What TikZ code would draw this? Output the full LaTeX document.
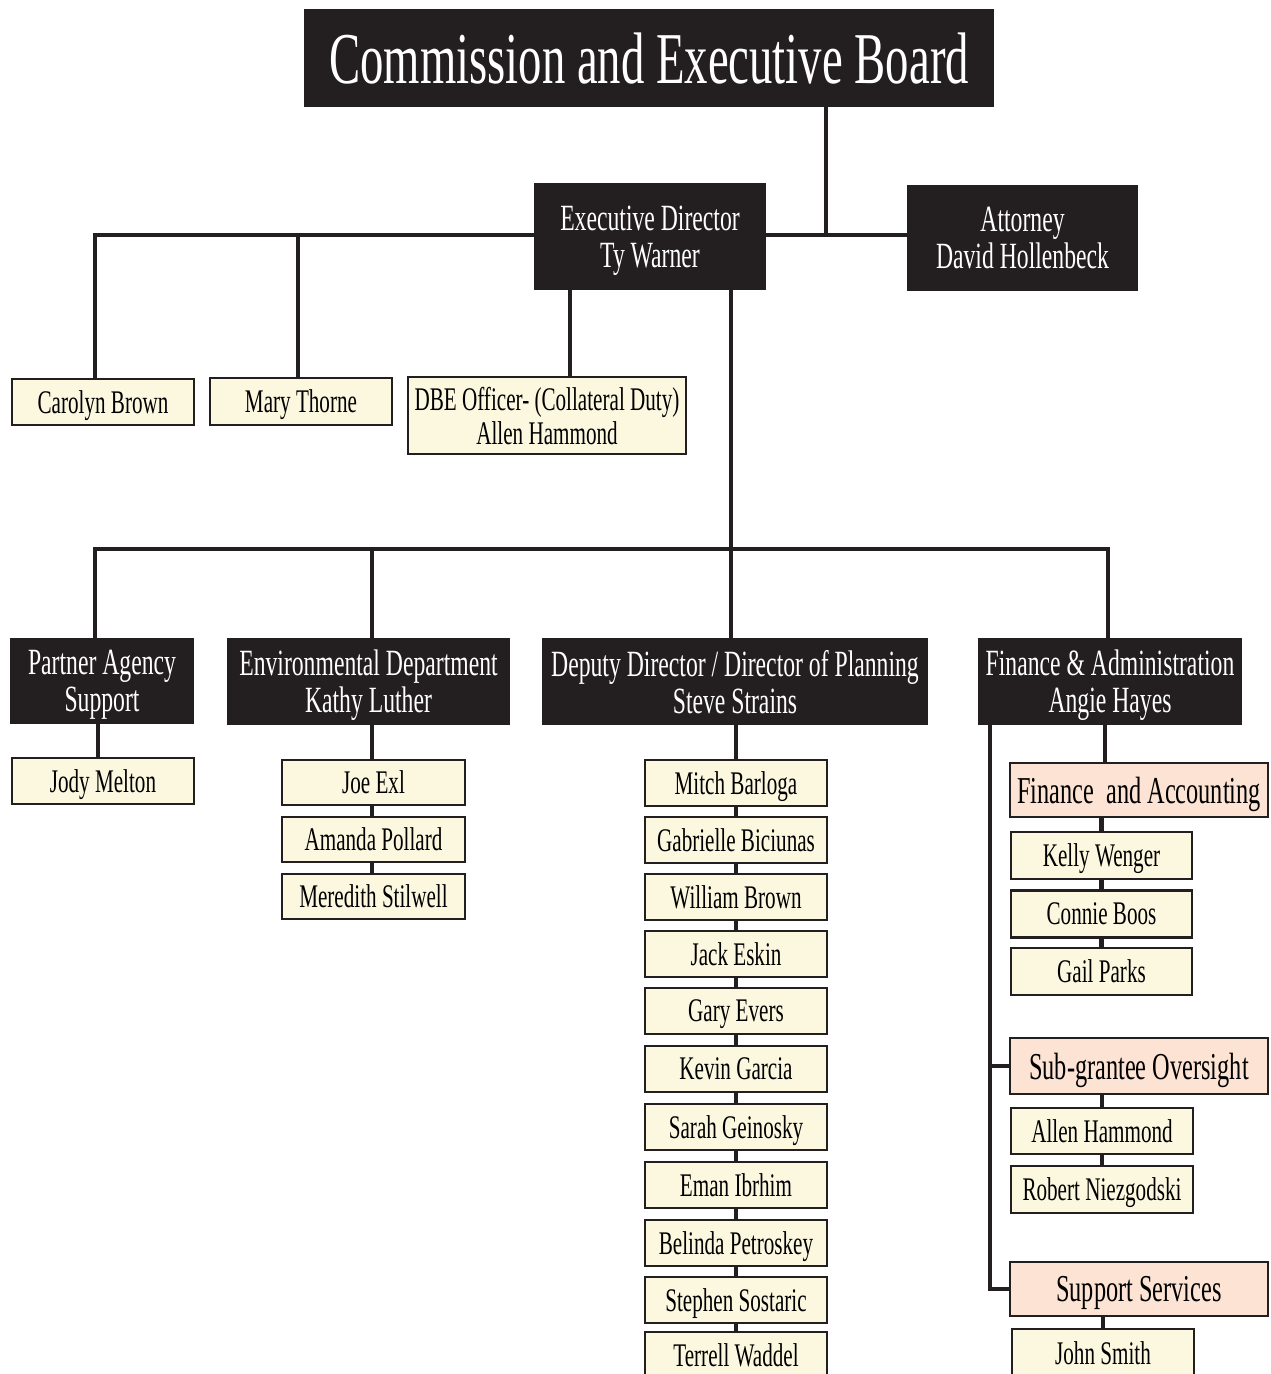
\documentclass[tikz,border=0pt]{standalone}
\usepackage{fontspec}
\setmainfont{Liberation Serif}[FakeStretch=0.64]
\definecolor{dark}{HTML}{231F20}
\definecolor{cream}{HTML}{FCF8E0}
\definecolor{peach}{HTML}{FCE3D3}
\begin{document}
\begin{tikzpicture}[x=1pt,y=-1pt,
  darkbox/.style={rectangle, fill=dark, draw=none, text=white, inner sep=0pt, align=center,
    text depth=0pt, font=\fontsize{37}{37}\selectfont},
  namebox/.style={rectangle, fill=cream, draw=dark, line width=2.8pt, inner sep=0pt, align=center,
    text depth=0pt, font=\fontsize{33}{34}\selectfont, minimum width=182, minimum height=46},
  unitbox/.style={rectangle, fill=peach, draw=dark, line width=2.8pt, inner sep=0pt, align=center,
    text depth=0pt, font=\fontsize{38}{38}\selectfont, minimum width=258, minimum height=55},
  conn/.style={draw=dark, line width=4.5pt}]
\useasboundingbox (0,0) rectangle (1270,1374);

\coordinate (j1) at (826,235);
\coordinate (bus) at (731,549);
\coordinate (trunk) at (990,725);

% top level
\node[darkbox, minimum width=690, minimum height=98, font=\fontsize{73}{73}\selectfont] (title) at (649,58) {Commission and Executive Board};
\node[darkbox, minimum width=232, minimum height=107] (exec) at (650,236.5) {Executive Director\\Ty Warner};
\node[darkbox, minimum width=231, minimum height=106] (attorney) at (1022.5,238) {Attorney\\David Hollenbeck};

\node[namebox] (carolyn) at (103,402) {Carolyn Brown};
\node[namebox, minimum height=47] (mary) at (301,401.5) {Mary Thorne};
\node[namebox, minimum width=278, minimum height=77] (dbe) at (547,415.5) {DBE Officer- (Collateral Duty)\\Allen Hammond};

% department heads
\node[darkbox, minimum width=184, minimum height=86] (partner) at (102,681) {Partner Agency\\Support};
\node[darkbox, minimum width=283, minimum height=87] (env) at (368.5,681.5) {Environmental Department\\Kathy Luther};
\node[darkbox, minimum width=386, minimum height=87] (deputy) at (735,681.5) {Deputy Director / Director of Planning\\Steve Strains};
\node[darkbox, minimum width=264, minimum height=87] (finance) at (1110,681.5) {Finance \& Administration\\Angie Hayes};

% partner
\node[namebox] (jody) at (103,781) {Jody Melton};

% environmental
\node[namebox, minimum width=183, minimum height=45] (joe) at (373.5,782.5) {Joe Exl};
\node[namebox, minimum width=183, minimum height=45] (amanda) at (373.5,839.5) {Amanda Pollard};
\node[namebox, minimum width=183, minimum height=45] (meredith) at (373.5,896.5) {Meredith Stilwell};

% deputy staff
\node[namebox] (d1) at (736,783) {Mitch Barloga};
\node[namebox] (d2) at (736,840) {Gabrielle Biciunas};
\node[namebox] (d3) at (736,897) {William Brown};
\node[namebox] (d4) at (736,954) {Jack Eskin};
\node[namebox] (d5) at (736,1011) {Gary Evers};
\node[namebox] (d6) at (736,1069) {Kevin Garcia};
\node[namebox] (d7) at (736,1127) {Sarah Geinosky};
\node[namebox] (d8) at (736,1185) {Eman Ibrhim};
\node[namebox] (d9) at (736,1243) {Belinda Petroskey};
\node[namebox] (d10) at (736,1300) {Stephen Sostaric};
\node[namebox] (d11) at (736,1355) {Terrell Waddel};

% finance
\node[unitbox, minimum height=54] (fa) at (1139,790) {Finance\ \ and Accounting};
\node[namebox, minimum width=181, minimum height=47] (kelly) at (1101.5,855.5) {Kelly Wenger};
\node[namebox, minimum width=181, minimum height=47] (connie) at (1101.5,914) {Connie Boos};
\node[namebox, minimum width=181, minimum height=47] (gail) at (1101.5,971.5) {Gail Parks};
\node[unitbox, minimum height=56] (sub) at (1139,1066) {Sub-grantee Oversight};
\node[namebox, minimum height=46] (allen) at (1102,1131) {Allen Hammond};
\node[namebox, minimum height=47] (robert) at (1102,1189.5) {Robert Niezgodski};
\node[unitbox, minimum height=54] (support) at (1139,1289) {Support Services};
\node[namebox, minimum height=49] (john) at (1103,1353.5) {John Smith};

% connectors (they end at the box borders)
\begin{scope}[conn]
\draw ([xshift=177]title.south) -- (j1);
\draw (exec.east |- j1) -- (attorney.west |- j1);
\draw (exec.west |- j1) -| ([xshift=-8]carolyn.north);
\draw ([xshift=-3]mary.north |- j1) -- ([xshift=-3]mary.north);
\draw ([xshift=-80]exec.south) -- ([xshift=23]dbe.north);
\draw ([xshift=81]exec.south) -- (bus);
\draw ([xshift=-7]partner.north) |- (bus);
\draw ([xshift=-2]finance.north) |- (bus);
\draw ([xshift=3.5]env.north) -- ([xshift=3.5]env.north |- bus);
\draw ([xshift=-4]deputy.north) -- ([xshift=-4]deputy.north |- bus);
\draw ([xshift=-4]partner.south) -- ([xshift=-4]partner.south |- jody.north);
\draw ([xshift=-1.5]joe.north |- env.south) -- ([xshift=-1.5]joe.north);
\draw ([xshift=-1.5]joe.south) -- ([xshift=-1.5]amanda.north);
\draw ([xshift=-1.5]amanda.south) -- ([xshift=-1.5]meredith.north);
\draw (d1.north |- deputy.south) -- (d1.north);
\foreach \a/\b in {d1/d2,d2/d3,d3/d4,d4/d5,d5/d6,d6/d7,d7/d8,d8/d9,d9/d10,d10/d11}
  \draw (\a.south) -- (\b.north);
\draw ([xshift=-5]finance.south) -- ([xshift=-5]finance.south |- fa.north);
\draw (kelly.north |- fa.south) -- (kelly.north);
\draw (kelly.south) -- (connie.north);
\draw (connie.south) -- (gail.north);
\draw (trunk) |- (support.west);
\draw (trunk |- sub.west) -- (sub.west);
\draw (allen.north |- sub.south) -- (allen.north);
\draw (allen.south) -- (robert.north);
\draw (john.north |- support.south) -- (john.north);
\end{scope}
\end{tikzpicture}
\end{document}
